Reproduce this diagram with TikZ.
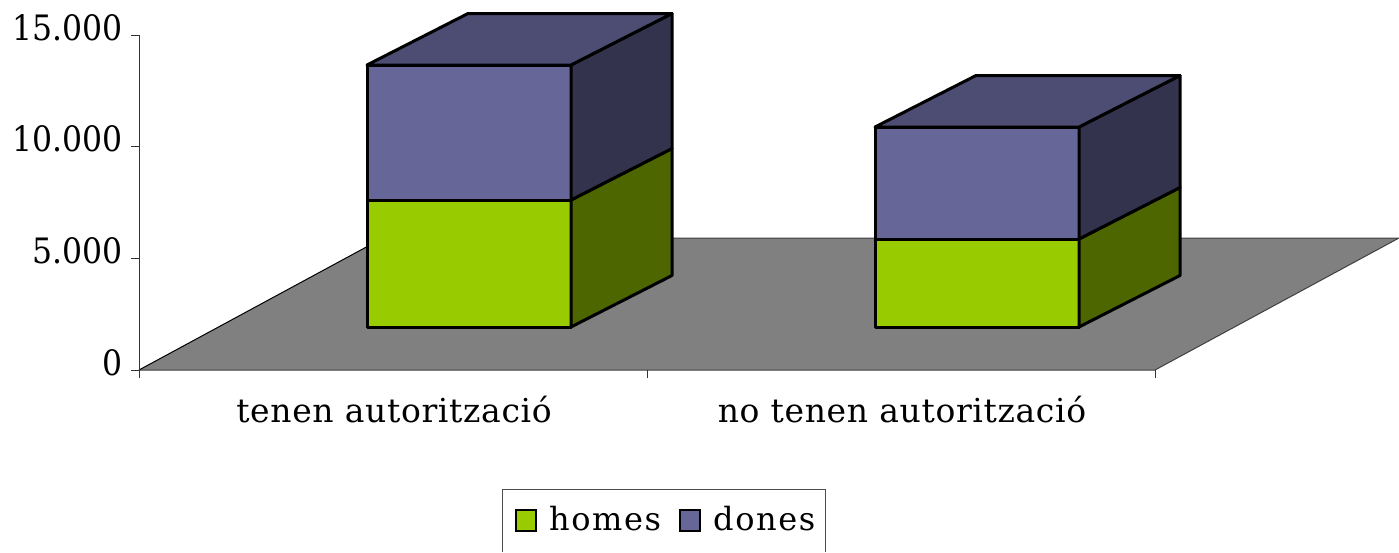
\documentclass[tikz,border=0pt]{standalone}
\usepackage{fontspec}
\setmainfont{DejaVu Serif}
\newfontfamily\numfont[FakeStretch=0.9]{DejaVu Serif}
\newfontfamily\catfont[LetterSpace=2]{DejaVu Serif}
\newfontfamily\legfont[LetterSpace=5]{DejaVu Serif}
\usepackage{tikz}
\definecolor{homesfront}{RGB}{153,204,0}
\definecolor{homesside}{RGB}{77,102,0}
\definecolor{donesfront}{RGB}{102,102,153}
\definecolor{donestop}{RGB}{77,77,115}
\definecolor{donesside}{RGB}{51,51,77}
\definecolor{floorgray}{RGB}{128,128,128}

\tikzset{
    barface/.style={draw=black, line width=3pt, line join=round},
    ylabel/.style={anchor=base east, font=\numfont\fontsize{35}{40}\selectfont},
    catlabel/.style={anchor=base, font=\catfont\fontsize{33}{38}\selectfont},
    legtext/.style={anchor=base west, font=\legfont\fontsize{32}{36}\selectfont, inner sep=0pt},
    legkey/.style={draw=black, line width=2.5pt}
}

\begin{document}
\begin{tikzpicture}[x=1pt, y=-1pt]
    \useasboundingbox (0,0) rectangle (1399,552);

    % Floor
    \fill[floorgray] (139,370) -- (1155,370) -- (1399,238) -- (383,238) -- cycle;
    \draw[black!75, line width=1pt] (139,370) -- (1155,370) -- (1399,238) -- (383,238);
    \draw[black, line width=1pt] (139,370) -- (383,238);

    % Value axis
    \draw[black!80, line width=1pt] (139,35) -- (139,370);
    \foreach \v/\y in {0/370, 5.000/258.3, 10.000/146.7, 15.000/35} {
        \draw[black!80, line width=1pt] (131,\y) -- (139,\y);
        \node[ylabel] (y\y) at (126,\y+5) {\v};
    }

    % Category ticks
    \foreach \x in {139,647,1155} {
        \draw[black!80, line width=1pt] (\x,370) -- (\x,378);
    }

    % Stacked bars (homes below, dones above)
    \foreach \bx/\gtop/\btop in {367/200/65, 875/239/127} {
        \filldraw[barface, fill=homesfront] (\bx,327) rectangle (\bx+204,\gtop);
        \filldraw[barface, fill=homesside] (\bx+204,327) -- (\bx+305,275.5) -- (\bx+305,\gtop-51.5) -- (\bx+204,\gtop) -- cycle;
        \filldraw[barface, fill=donesfront] (\bx,\gtop) rectangle (\bx+204,\btop);
        \filldraw[barface, fill=donesside] (\bx+204,\gtop) -- (\bx+305,\gtop-51.5) -- (\bx+305,\btop-51.5) -- (\bx+204,\btop) -- cycle;
        \filldraw[barface, fill=donestop] (\bx,\btop) -- (\bx+101,\btop-51.5) -- (\bx+305,\btop-51.5) -- (\bx+204,\btop) -- cycle;
    }

    % Category labels
    \node[catlabel] (cat1) at (394,422) {tenen autorització};
    \node[catlabel] (cat2) at (902,422) {no tenen autorització};

    % Legend
    \draw[black!70, line width=1pt] (502.5,552) -- (502.5,489.5) -- (825.5,489.5) -- (825.5,552);
    \filldraw[legkey, fill=homesfront] (516,510) rectangle (536,531);
    \node[legtext] (homes) at (549,530) {homes};
    \filldraw[legkey, fill=donesfront] (680,510) rectangle (700,531);
    \node[legtext] (dones) at (713,530) {dones};
\end{tikzpicture}
\end{document}
